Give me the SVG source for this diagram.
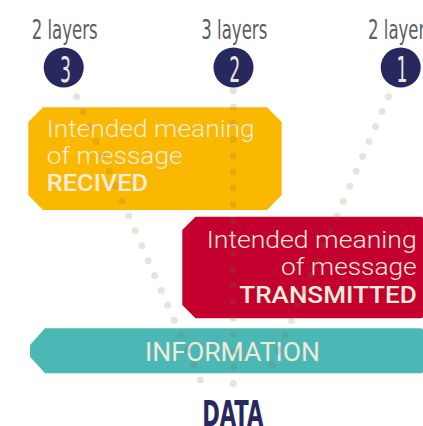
<svg xmlns="http://www.w3.org/2000/svg" width="423" height="426" viewBox="0 0 423 426">
<style>
.layers{font-family:"DejaVu Sans Condensed","DejaVu Sans",sans-serif;font-size:27px;fill:#5d5d5d;text-anchor:middle}
.num{font-family:"DejaVu Sans Condensed","DejaVu Sans",sans-serif;font-size:36px;fill:#ece8dc;text-anchor:middle}
.circ{fill:#27285e}
.light{font-family:Roboto,"Liberation Sans",sans-serif;font-weight:300;font-size:24.5px;fill:#f1ecdc}
.bold{font-family:Roboto,"Liberation Sans",sans-serif;font-weight:500;font-size:24.5px;fill:#f1ecdc}
.info{font-family:Roboto,"Liberation Sans",sans-serif;font-weight:400;font-size:25.5px;fill:#efe9d8;text-anchor:middle}
.data{font-family:"DejaVu Sans Condensed","DejaVu Sans",sans-serif;font-weight:bold;font-size:36px;fill:#27285e;text-anchor:middle}
.dots{stroke:#7a6f45;stroke-opacity:0.19;stroke-width:7;stroke-linecap:round;stroke-dasharray:0 16.26;fill:none}
</style>
<g id="layer3">
<text class="layers" x="64.7" y="39" textLength="66" lengthAdjust="spacingAndGlyphs">2 layers</text>
<circle class="circ" cx="63.7" cy="67.5" r="20"/>
<text class="num" x="65.5" y="81.5" textLength="11" lengthAdjust="spacingAndGlyphs">3</text>
</g>
<g id="layer2">
<text class="layers" x="234.3" y="39" textLength="66" lengthAdjust="spacingAndGlyphs">3 layers</text>
<circle class="circ" cx="233.5" cy="67.5" r="20"/>
<text class="num" x="234.7" y="81.5" textLength="11" lengthAdjust="spacingAndGlyphs">2</text>
</g>
<g id="layer1">
<text class="layers" x="401" y="39" textLength="66" lengthAdjust="spacingAndGlyphs">2 layers</text>
<circle class="circ" cx="400.7" cy="67.5" r="20"/>
<text class="num" x="402" y="81.5" textLength="11" lengthAdjust="spacingAndGlyphs">1</text>
</g>
<g id="received">
<polygon fill="#fbb800" points="43,107.3 267,107.3 281.7,122 281.7,195 267,210 43,210 28.3,195 28.3,122"/>
<text class="light" x="46.7" y="137.3" textLength="208" lengthAdjust="spacingAndGlyphs">Intended meaning</text>
<text class="light" x="46.7" y="164" textLength="136" lengthAdjust="spacingAndGlyphs">of message</text>
<text class="bold" x="46.7" y="190.7" textLength="101.5" lengthAdjust="spacingAndGlyphs">RECIVED</text>
</g>
<g id="transmitted">
<path fill="#c4002e" d="M195.5,216.7 H421 Q423,216.7 423,218.7 V316.3 Q423,318.3 421,318.3 H195.5 L182.3,305 V230 Z"/>
<text class="light" x="206.7" y="248.3" textLength="210" lengthAdjust="spacingAndGlyphs">Intended meaning</text>
<text class="light" x="281" y="274.5" textLength="135.7" lengthAdjust="spacingAndGlyphs">of message</text>
<text class="bold" x="239.3" y="303.3" textLength="177.4" lengthAdjust="spacingAndGlyphs">TRANSMITTED</text>
</g>
<g id="information">
<path fill="#4cb8b6" d="M45,328.3 H421 Q423,328.3 423,330.3 V371.3 Q423,373.3 421,373.3 H45 L30,356.7 V345 Z"/>
<text class="info" x="232.5" y="360.7" textLength="175" lengthAdjust="spacingAndGlyphs">INFORMATION</text>
</g>
<g id="data">
<text class="data" x="232.8" y="425.5" textLength="61" lengthAdjust="spacingAndGlyphs">DATA</text>
</g>
<g id="connectors">
<line class="dots" x1="76.7" y1="96.7" x2="200.3" y2="380"/>
<line class="dots" x1="233.3" y1="90.7" x2="233.3" y2="383.4"/>
<line class="dots" x1="388.5" y1="96.7" x2="265.7" y2="380"/>
</g>
</svg>
